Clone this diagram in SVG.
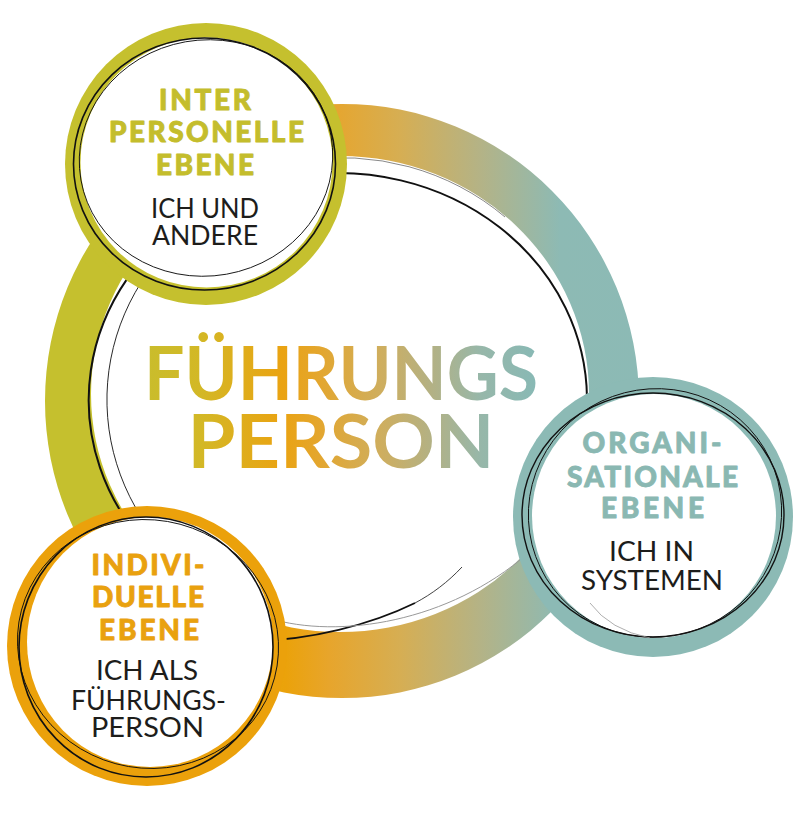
<svg xmlns="http://www.w3.org/2000/svg" width="800" height="815" viewBox="0 0 800 815">
<defs>
<style>
.h{font-family:Lato,"Open Sans",sans-serif;font-weight:900;font-size:28px;text-anchor:middle;stroke-width:0.9;stroke-linejoin:round}
.b{font-family:Lato,"Open Sans",sans-serif;font-weight:400;font-size:26px;fill:#1d1d1b;text-anchor:middle}
.t{font-family:Lato,"Open Sans",sans-serif;font-weight:700;font-size:74px;text-anchor:middle;fill:url(#tg)}
.ink{fill:none;stroke:#111}
.thin{fill:none;stroke:#111;stroke-width:0.9}
.white{fill:#fff}
.g{fill:#c4bd2c;stroke:#c4bd2c}
.o{fill:#e9a10f;stroke:#e9a10f}
.c{fill:#8ab8b2;stroke:#8ab8b2}
</style>
<linearGradient id="rg" gradientUnits="userSpaceOnUse" x1="43" y1="0" x2="640" y2="0">
<stop offset="0" stop-color="#c5c02e"/>
<stop offset="0.17" stop-color="#c5c02e"/>
<stop offset="0.405" stop-color="#eba20a"/>
<stop offset="0.48" stop-color="#e7a52c"/>
<stop offset="0.598" stop-color="#d6ae53"/>
<stop offset="0.732" stop-color="#b4b386"/>
<stop offset="0.866" stop-color="#8dbab4"/>
<stop offset="1" stop-color="#8cbab5"/>
</linearGradient>
<linearGradient id="tg" gradientUnits="userSpaceOnUse" x1="145" y1="0" x2="537" y2="0">
<stop offset="0" stop-color="#c9bd2c"/>
<stop offset="0.14" stop-color="#d3b826"/>
<stop offset="0.35" stop-color="#eaa312"/>
<stop offset="0.44" stop-color="#e4a62d"/>
<stop offset="0.6" stop-color="#cfae5e"/>
<stop offset="0.73" stop-color="#b3b184"/>
<stop offset="0.855" stop-color="#97b7a9"/>
<stop offset="1" stop-color="#88b9b5"/>
</linearGradient>
</defs>

<g id="connectors">
<path d="M45 401a297 297 0 1 0 594 0a297 297 0 1 0 -594 0Z M91 394a249 238 0 1 0 498 0a249 238 0 1 0 -498 0Z" fill="url(#rg)" fill-rule="evenodd"/>
<path class="ink" stroke-width="2" d="M300 175.7A249 227 0 0 1 587 398"/>
<path class="ink" stroke-width="2" d="M195 214A249 227 0 0 0 147 546"/>
<path class="ink" stroke-width="1.8" d="M255 641C310 640 370 625 415 603"/>
<path class="ink" stroke-width="1" stroke-opacity="0.8" d="M415 603C432 594 448 582 462 567"/>
<path class="thin" d="M208 214A238 227 0 0 0 163 546"/>
<path fill="none" stroke="#444" stroke-width="0.8" stroke-opacity="0.8" d="M300 161A247 236 0 0 1 505 217"/>
<path fill="none" stroke="#999" stroke-width="1" d="M262 616C330 640 440 625 520 560"/>
</g>

<g id="center">
<text class="t" x="341" y="400" textLength="394" lengthAdjust="spacingAndGlyphs">FÜHRUNGS</text>
<text class="t" x="341" y="468" textLength="307" lengthAdjust="spacingAndGlyphs">PERSON</text>
</g>

<g id="interpersonelle">
<circle cx="206" cy="164" r="141" fill="#c5c02e"/>
<ellipse class="white" cx="206.5" cy="162.5" rx="126" ry="125"/>
<ellipse class="ink" stroke-width="1.6" cx="204.5" cy="164" rx="131" ry="126"/>
<ellipse class="thin" cx="206" cy="158" rx="127" ry="118" transform="rotate(-10 206 158)"/>
<text class="h g" x="205" y="110" textLength="92">INTER</text>
<text class="h g" x="206.5" y="142" textLength="195">PERSONELLE</text>
<text class="h g" x="205" y="175" textLength="98">EBENE</text>
<text class="b" x="205" y="218" textLength="108" lengthAdjust="spacingAndGlyphs">ICH UND</text>
<text class="b" x="205" y="245" textLength="106" lengthAdjust="spacingAndGlyphs">ANDERE</text>
</g>

<g id="individuelle">
<circle cx="147" cy="646" r="140" fill="#eba10b"/>
<ellipse class="white" cx="150" cy="642" rx="123" ry="125"/>
<ellipse class="ink" stroke-width="1.6" cx="146" cy="647" rx="127" ry="130"/>
<ellipse class="thin" cx="148" cy="644" rx="131" ry="124" transform="rotate(15 148 644)"/>
<text class="h o" x="148" y="575" textLength="113">INDIVI-</text>
<text class="h o" x="148" y="607" textLength="112">DUELLE</text>
<text class="h o" x="149" y="640" textLength="100">EBENE</text>
<text class="b" x="147" y="680" textLength="102" lengthAdjust="spacingAndGlyphs">ICH ALS</text>
<text class="b" x="148.5" y="710" textLength="155" lengthAdjust="spacingAndGlyphs">FÜHRUNGS-</text>
<text class="b" x="147.5" y="737" textLength="113" lengthAdjust="spacingAndGlyphs">PERSON</text>
</g>

<g id="organisationale">
<circle cx="653" cy="517" r="140" fill="#8cbab5"/>
<circle class="white" cx="654" cy="516" r="122"/>
<ellipse class="ink" stroke-width="1.4" cx="653" cy="515" rx="131" ry="122"/>
<ellipse class="thin" cx="655" cy="513" rx="127" ry="124" transform="rotate(-20 655 513)"/>
<path fill="none" stroke="#999" stroke-width="0.8" d="M590 603Q610 630 650 638"/>
<text class="h c" x="652" y="453" textLength="139">ORGANI-</text>
<text class="h c" x="652.5" y="487" textLength="171">SATIONALE</text>
<text class="h c" x="652.5" y="518" textLength="103">EBENE</text>
<text class="b" x="651.5" y="561" textLength="85" lengthAdjust="spacingAndGlyphs">ICH IN</text>
<text class="b" x="652" y="590" textLength="142" lengthAdjust="spacingAndGlyphs">SYSTEMEN</text>
</g>
</svg>
